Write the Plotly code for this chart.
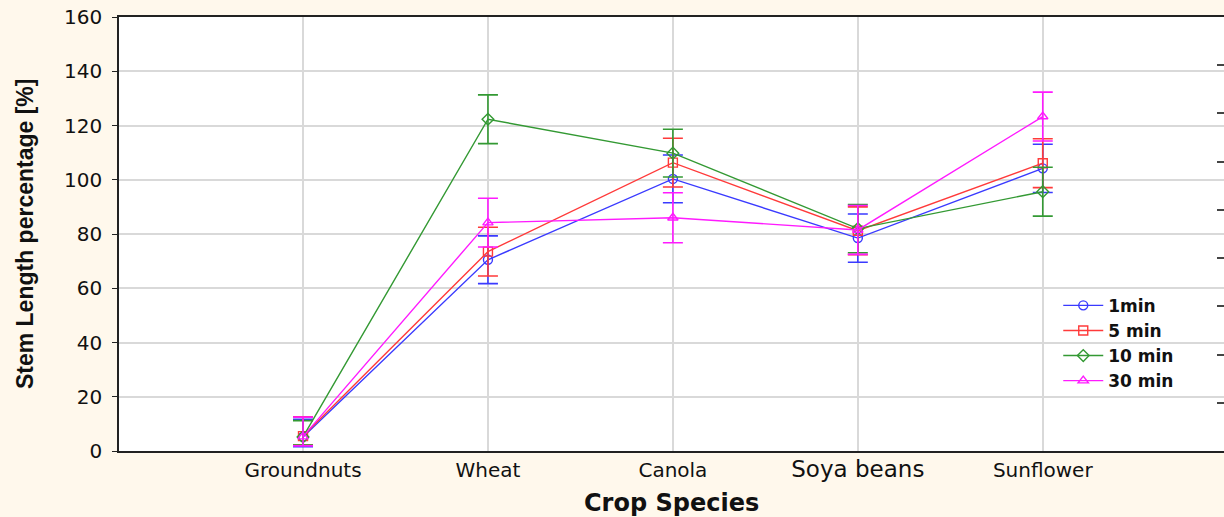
import plotly.graph_objects as go

categories = ["Groundnuts", "Wheat", "Canola", "Soya beans", "Sunflower"]
tick_labels = ["Groundnuts", "Wheat", "Canola",
               "<span style='font-size:23px'>Soya beans</span>", "Sunflower"]

series_names = ["1min", "5 min", "10 min", "30 min"]
vals_1min = [5.2, 70.5, 100.3, 78.5, 104.2]
vals_5min = [5.5, 73.5, 106.3, 81.2, 106.1]
vals_10min = [5.2, 122.3, 109.8, 82.0, 95.6]
vals_30min = [5.3, 84.2, 86.0, 81.5, 123.3]
# upper and lower error half-widths
err_up_1min = [6.5, 8.8, 8.8, 8.9, 8.9]
err_dn_1min = [3.6, 8.8, 8.8, 8.9, 8.9]
err_up_5min = [7.1, 9.0, 9.0, 8.8, 9.0]
err_dn_5min = [3.3, 9.0, 9.0, 8.8, 9.0]
err_up_10min = [6.0, 9.0, 8.8, 8.9, 9.0]
err_dn_10min = [3.0, 9.0, 8.8, 8.9, 9.0]
err_up_30min = [7.2, 9.0, 9.2, 9.0, 9.0]
err_dn_30min = [3.4, 9.0, 9.2, 9.0, 9.0]

colors = ["#3a3aff", "#ff3a3a", "#339933", "#ff1aff"]
symbols = ["circle-open", "square-open", "diamond-open", "triangle-up-open"]

all_vals = [vals_1min, vals_5min, vals_10min, vals_30min]
all_up = [err_up_1min, err_up_5min, err_up_10min, err_up_30min]
all_dn = [err_dn_1min, err_dn_5min, err_dn_10min, err_dn_30min]

x_pos = list(range(len(categories)))

fig = go.Figure()
for name, v, eu, ed, c, s in zip(series_names, all_vals, all_up, all_dn,
                                 colors, symbols):
    fig.add_trace(go.Scatter(
        x=x_pos, y=v, name=name, mode="lines+markers",
        line=dict(color=c, width=1.4),
        marker=dict(symbol=s, size=9, color=c, line=dict(width=1.4, color=c)),
        error_y=dict(type="data", symmetric=False, array=eu, arrayminus=ed,
                     visible=True, color=c, thickness=1.6, width=10),
    ))

# right-hand secondary scale ticks (no labels)
fig.add_trace(go.Scatter(x=[None], y=[None], yaxis="y2", showlegend=False,
                         hoverinfo="skip"))

fig.update_layout(
    width=1224, height=517,
    margin=dict(l=119, r=0, t=17, b=66, autoexpand=False),
    paper_bgcolor="#fff8ec",
    plot_bgcolor="#ffffff",
    showlegend=True,
    legend=dict(
        x=0.85, y=0.376, xanchor="left", yanchor="top",
        bgcolor="rgba(255,255,255,0)",
        font=dict(family="DejaVu Sans", size=17, color="#111111", weight="bold"),
        tracegroupgap=0, itemwidth=40,
    ),
    xaxis=dict(
        range=[-0.995, 4.98], automargin=False,
        tickmode="array", tickvals=x_pos, ticktext=tick_labels,
        showgrid=True, gridcolor="#d9d9d9", gridwidth=1.8,
        showline=True, linecolor="#222222", linewidth=2, mirror=True,
        ticks="", zeroline=False,
        tickfont=dict(family="DejaVu Sans", size=20, color="#111111"),
    ),
    yaxis=dict(
        range=[0, 160], dtick=20, automargin=False,
        showgrid=True, gridcolor="#d9d9d9", gridwidth=1.8,
        showline=True, linecolor="#222222", linewidth=1.5,
        ticks="outside", ticklen=5, tickcolor="#222222",
        ticklabelstandoff=6,
        zeroline=False,
        tickfont=dict(family="DejaVu Sans", size=20, color="#111111"),
    ),
    yaxis2=dict(
        overlaying="y", side="right", range=[0, 9], dtick=1, automargin=False,
        showgrid=False, zeroline=False, showline=False,
        showticklabels=False, ticks="inside", ticklen=7,
        tickcolor="#444444", tickwidth=1.5,
    ),
    annotations=[
        dict(text="<b>Stem Length percentage [%]</b>", textangle=-90,
             xref="paper", yref="paper", x=-0.085, y=0.5,
             xanchor="center", yanchor="middle", showarrow=False,
             font=dict(family="Liberation Sans", size=23, color="#111111")),
        dict(text="<b>Crop Species</b>",
             xref="paper", yref="paper", x=0.5, y=-0.12,
             xanchor="center", yanchor="middle", showarrow=False,
             font=dict(family="DejaVu Sans", size=24, color="#111111")),
    ],
)

fig.write_html(
    "out.html",
    config={"displayModeBar": False},
    post_script="document.body.style.margin='0';document.body.style.overflow='hidden';",
)
